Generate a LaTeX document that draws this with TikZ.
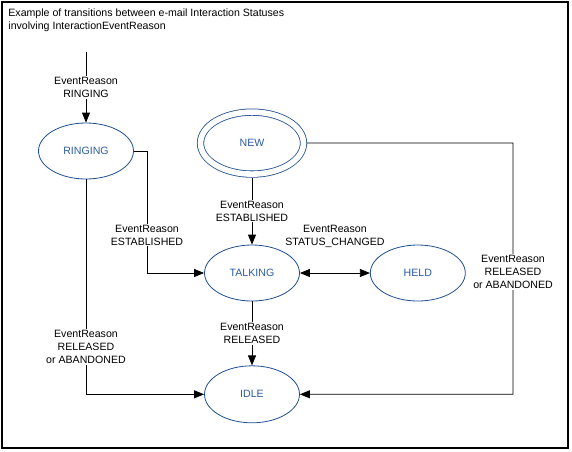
\documentclass[tikz,border=0pt]{standalone}
\usepackage{fontspec}
\setmainfont{Liberation Sans}
\usetikzlibrary{arrows.meta,automata,shapes.geometric,positioning}
\definecolor{stateblue}{RGB}{31,78,145}
\definecolor{textblue}{RGB}{42,92,165}
\begin{document}
\begin{tikzpicture}[x=1pt,y=-1pt,->,>={Triangle[length=10pt,width=8pt]},
	line width=0.8pt,font=\fontsize{10.6}{13}\selectfont]
	\tikzstyle{every state}=[ellipse,draw=stateblue,text=textblue,fill=white,
	minimum width=95pt,minimum height=56pt,inner sep=0pt]
	\tikzstyle{reason}=[fill=white,text=black,align=center,inner sep=1pt]
	
	\useasboundingbox (0,0) rectangle (572,451);
	\draw[-,line width=1.2pt] (2,2) rectangle (568,448);
	\node[anchor=north west,align=left,inner sep=0pt] (title) at (8,8)
	{Example of transitions between e-mail Interaction Statuses\\involving InteractionEventReason};
	
	\node[state]                    (R) at (86,151)  {RINGING};
	\node[state]                    (T) at (252,273) {TALKING};
	\node[state]                    (H) [right=70pt of T] {HELD};
	\node[state,minimum height=57pt] (I) [below=64pt of T] {IDLE};
	\node[state,double,double distance=5.6pt,outer sep=3.5pt,
	minimum width=103pt,minimum height=62pt] (N) [above=67pt of T] {NEW};
	
	\coordinate (start) at (86,52);
	\coordinate (turnR) at (147,151);
	\coordinate (turnN) at (513,143);
	
	\draw (start) -- node[reason] {EventReason\\RINGING} (R);
	\draw (N) -- node[reason] {EventReason\\ESTABLISHED} (T);
	\draw (R) -- (turnR) |- node[reason,pos=0.345] {EventReason\\ESTABLISHED} (T);
	\draw (R) |- node[reason,pos=0.39] {EventReason\\RELEASED\\or ABANDONED} (I);
	\draw[<->] (T) -- node[reason,yshift=37pt] {EventReason\\STATUS\_CHANGED} (H);
	\draw (T) -- node[reason] {EventReason\\RELEASED} (I);
	\draw (N) -- (turnN) |- node[reason,pos=0.257] {EventReason\\RELEASED\\or ABANDONED} (I);
	
\end{tikzpicture}
\end{document}
